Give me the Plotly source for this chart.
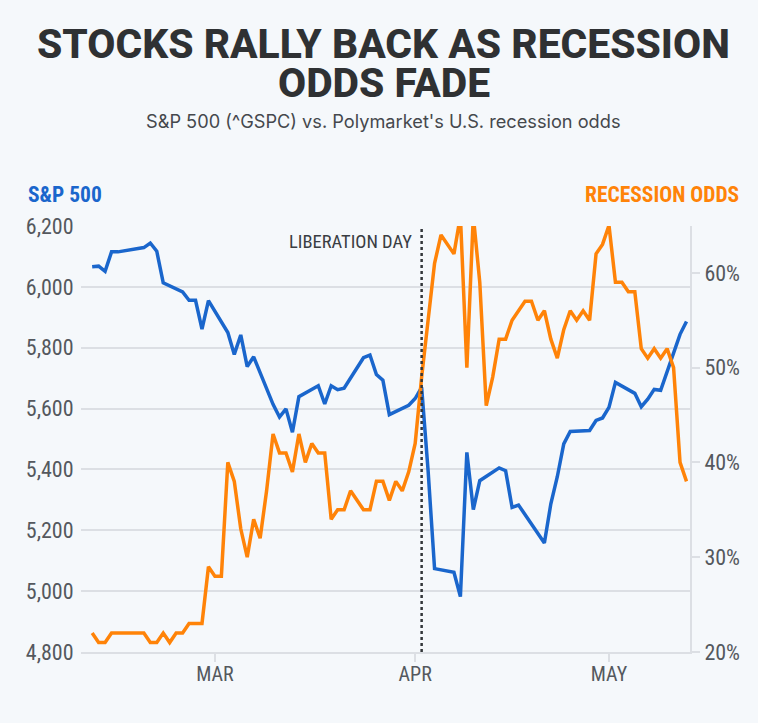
import pandas as pd
import plotly.graph_objects as go
from plotly.subplots import make_subplots

# S&P 500 closes, trading days only
spx_dates = ["2025-02-10","2025-02-11","2025-02-12","2025-02-13","2025-02-14","2025-02-18","2025-02-19","2025-02-20","2025-02-21",
             "2025-02-24","2025-02-25","2025-02-26","2025-02-27","2025-02-28",
             "2025-03-03","2025-03-04","2025-03-05","2025-03-06","2025-03-07",
             "2025-03-10","2025-03-11","2025-03-12","2025-03-13","2025-03-14",
             "2025-03-17","2025-03-18","2025-03-19","2025-03-20","2025-03-21",
             "2025-03-24","2025-03-25","2025-03-26","2025-03-27","2025-03-28",
             "2025-03-31","2025-04-01","2025-04-02","2025-04-03","2025-04-04",
             "2025-04-07","2025-04-08","2025-04-09","2025-04-10","2025-04-11",
             "2025-04-14","2025-04-15","2025-04-16","2025-04-17",
             "2025-04-21","2025-04-22","2025-04-23","2025-04-24","2025-04-25",
             "2025-04-28","2025-04-29","2025-04-30","2025-05-01","2025-05-02",
             "2025-05-05","2025-05-06","2025-05-07","2025-05-08","2025-05-09",
             "2025-05-12","2025-05-13"]
spx = [6066,6068,6051,6115,6115,6129,6144,6117,6013,
       5983,5956,5956,5861,5955,
       5850,5778,5842,5738,5770,
       5614,5572,5599,5522,5639,
       5675,5615,5675,5662,5667,
       5767,5776,5712,5693,5580,
       5611,5633,5670,5396,5074,
       5062,4982,5456,5268,5363,
       5405,5396,5275,5283,
       5158,5287,5376,5484,5525,
       5528,5561,5569,5604,5686,
       5650,5606,5631,5663,5660,
       5844,5886]

# Polymarket recession odds, one value a day from Feb 10 to May 13
odds_dates = pd.date_range("2025-02-10", "2025-05-13")
odds = [22,21,21,22,22,22,22,22,22,21,21,22,21,22,22,23,23,23,29,
        28,28,40,38,33,30,34,32,37,43,41,41,39,43,40,42,41,41,34,35,35,37,36,35,35,38,38,36,38,37,39,
        42,49,55,61,64,63,62,66,50,66,59,46,49,53,53,55,56,57,57,55,56,53,51,54,56,55,56,55,62,63,
        65,59,59,58,58,52,51,52,51,52,50,40,38]

left_ticks = [4800,5000,5200,5400,5600,5800,6000,6200]
right_ticks = [20,30,40,50,60]
right_labels = ["20%","30%","40%","50%","60%"]
month_ticks = ["2025-03-01","2025-04-01","2025-05-01"]
month_labels = ["MAR","APR","MAY"]

BG = "#f5f8fb"
GRID = "#dcdfe4"
BLUE = "#1a66cc"
ORANGE = "#ff8308"
TICK = "#54585e"
NARROW = "Roboto Condensed, Open Sans Condensed, DejaVu Sans Condensed, Roboto"

fig = make_subplots(specs=[[{"secondary_y": True}]])
fig.add_trace(go.Scatter(x=spx_dates, y=spx, mode="lines", line=dict(color=BLUE, width=3.5)), secondary_y=False)
fig.add_trace(go.Scatter(x=odds_dates, y=odds, mode="lines", line=dict(color=ORANGE, width=3.5)), secondary_y=True)

fig.update_xaxes(domain=[0, 1], range=["2025-02-08 06:30", "2025-05-13 13:00"], tickvals=month_ticks, ticktext=month_labels,
                 ticks="outside", ticklen=8, tickwidth=1.5, tickcolor=GRID, showgrid=False, zeroline=False,
                 showline=True, linecolor=GRID, linewidth=2, ticklabelstandoff=-5,
                 tickfont=dict(family=NARROW, size=20, color=TICK))
fig.update_yaxes(range=[4800, 6200], tickvals=left_ticks, tickformat=",d", showgrid=True, gridcolor=GRID, gridwidth=2,
                 zeroline=False, showline=False, ticks="outside", ticklen=2, tickcolor="rgba(0,0,0,0)",
                 tickfont=dict(family=NARROW, size=22, color=TICK), secondary_y=False)
fig.update_yaxes(range=[20, 64.94], tickvals=right_ticks, ticktext=right_labels, showgrid=False, zeroline=False,
                 showline=True, linecolor=GRID, linewidth=2, ticks="outside", ticklen=8, tickwidth=1.5, tickcolor=GRID,
                 tickfont=dict(family=NARROW, size=22, color=TICK), secondary_y=True)

# liberation day marker
fig.add_shape(type="line", x0="2025-04-02", x1="2025-04-02", y0=0, y1=1, xref="x", yref="paper",
              line=dict(color="#33363a", width=2.5, dash="dot"))
fig.add_annotation(x="2025-04-02", y=1, xref="x", yref="paper", text="LIBERATION DAY", showarrow=False,
                   xanchor="right", yanchor="top", xshift=-8, yshift=-3,
                   font=dict(family=NARROW, size=18.5, color="#3a3d42"))

fig.update_layout(
    width=758, height=723, showlegend=False,
    margin=dict(l=81, r=68, t=226, b=71, pad=0),
    paper_bgcolor=BG, plot_bgcolor=BG,
)


def header(x, y, text, anchor, font):
    # header texts sit outside the plot area, placed in paper units from pixel spots
    fig.add_annotation(x=(x-81)/609, y=1+(226-y)/426, xref="paper", yref="paper", text=text, showarrow=False,
                       xanchor=anchor, yanchor="middle", font=font)


TITLE = dict(family="Roboto", size=40.8, color="#2f3133", weight=800)
header(383.5, 44, "STOCKS RALLY BACK AS RECESSION", "center", TITLE)
header(383.5, 83, "ODDS FADE", "center", TITLE)
header(383, 121, "S&P 500 (^GSPC) vs. Polymarket's U.S. recession odds", "center", dict(family="Inter", size=18.2, color="#45484d"))
header(26, 195, "<b>S&P 500</b>", "left", dict(family=NARROW, size=21.5, color=BLUE))
header(741, 195, "<b>RECESSION ODDS</b>", "right", dict(family=NARROW, size=21.5, color=ORANGE))

fig.write_html("out.html", config={"displayModeBar": False},
               post_script="document.body.style.margin='0';document.body.style.background='%s';" % BG)
